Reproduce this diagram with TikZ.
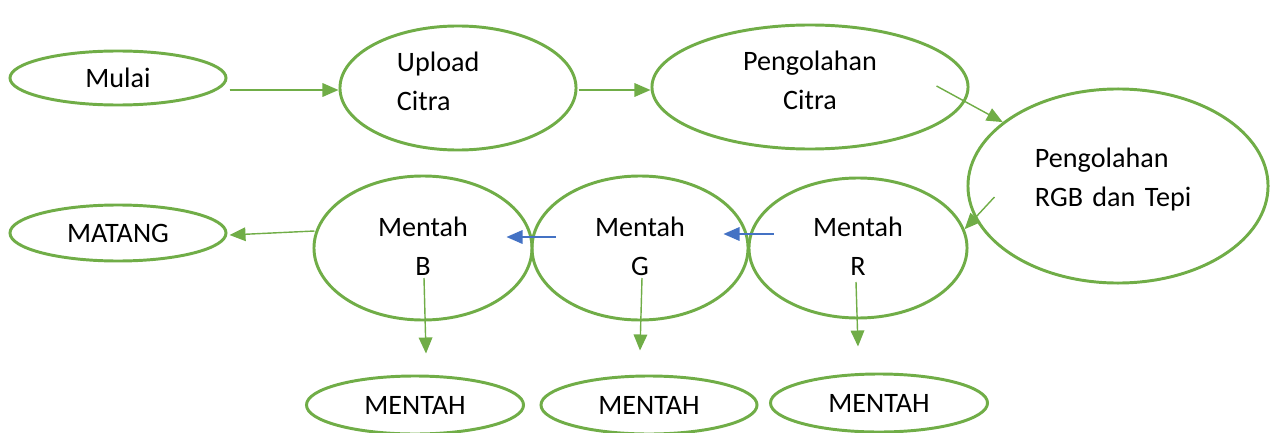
\documentclass[tikz,border=0pt]{standalone}
\usepackage{fontspec}
\setmainfont{Carlito}
\usepackage{xcolor}
\usetikzlibrary{shapes.geometric,arrows.meta,calc}

\definecolor{hijau}{HTML}{70AD47}
\definecolor{biru}{HTML}{4472C4}

\begin{document}
\begin{tikzpicture}[x=0.025cm, y=-0.025cm,
    proses/.style={ellipse, draw=hijau, line width=2.1pt, inner sep=0pt,
        font=\fontsize{20pt}{27.7pt}\selectfont, align=center},
    panah/.style={draw=hijau, line width=1pt,
        -{Triangle[length=0.4cm, width=0.34cm]}, fill=hijau},
    panahbiru/.style={draw=biru, line width=1pt,
        -{Triangle[length=0.4cm, width=0.34cm]}, fill=biru}]

    % Background
    \useasboundingbox (0, 0) rectangle (1270, 433);

    % Top row
    \node[proses, minimum width=5.4cm, minimum height=1.35cm] (mulai) at (118, 78) {Mulai};
    \node[proses, minimum width=5.9cm, minimum height=3.1cm, text width=3.05cm, align=left, text depth=1.325cm] (upload) at (458, 88) {Upload\\Citra};
    \node[proses, minimum width=7.9cm, minimum height=3.1cm, text depth=0.32cm] (olahcitra) at (810, 87) {Pengolahan\\Citra};
    \node[proses, minimum width=7.5cm, minimum height=4.85cm, text width=4.15cm, align=left, text depth=1.42cm] (olahrgb) at (1118, 186) {Pengolahan\\RGB dan Tepi};

    % Middle row
    \node[proses, minimum width=5.45cm, minimum height=3.5cm, text depth=0.1cm] (mentahR) at (858, 248) {Mentah\\R};
    \node[proses, minimum width=5.4cm, minimum height=3.6cm, text depth=0.1cm] (mentahG) at (640, 248) {Mentah\\G};
    \node[proses, minimum width=5.45cm, minimum height=3.6cm, text depth=0.1cm] (mentahB) at (423, 248) {Mentah\\B};
    \node[proses, minimum width=5.4cm, minimum height=1.4cm] (matang) at (118, 233) {MATANG};

    % Bottom row
    \node[proses, minimum width=5.425cm, minimum height=1.45cm] (hasilB) at (415, 405) {MENTAH};
    \node[proses, minimum width=5.4cm, minimum height=1.45cm] (hasilG) at (649, 405) {MENTAH};
    \node[proses, minimum width=5.425cm, minimum height=1.45cm] (hasilR) at (879, 403) {MENTAH};

    % Arrows
    \draw[panah] ($(mulai.east)+(2,12)$) -- ($(upload.west)+(0,2)$);
    \draw[panah] ($(upload.east)+(1,2)$) -- ($(olahcitra.west)+(0,3)$);
    \draw[panah] ($(olahcitra.east)+(-33,-1)$) -- (olahrgb.151);
    \draw[panah] ($(olahrgb.west)+(28,11)$) -- (mentahR.10);
    \draw[panahbiru] ($(mentahR.west)+(26,-14)$) -- ($(mentahG.east)+(-26,-14)$);
    \draw[panahbiru] ($(mentahG.west)+(25,-11)$) -- ($(mentahB.east)+(-27,-11)$);
    \draw[panah] ($(mentahB.west)+(2,-17)$) -- ($(matang.east)+(2,2)$);
    \draw[panah] ($(mentahB.center)+(1,30)$) -- ($(hasilB.north)+(11,-21)$);
    \draw[panah] ($(mentahG.center)+(2,30)$) -- ($(hasilG.north)+(-9,-24)$);
    \draw[panah] ($(mentahR.center)+(-2,34)$) -- ($(hasilR.north)+(-21,-26)$);

\end{tikzpicture}
\end{document}
